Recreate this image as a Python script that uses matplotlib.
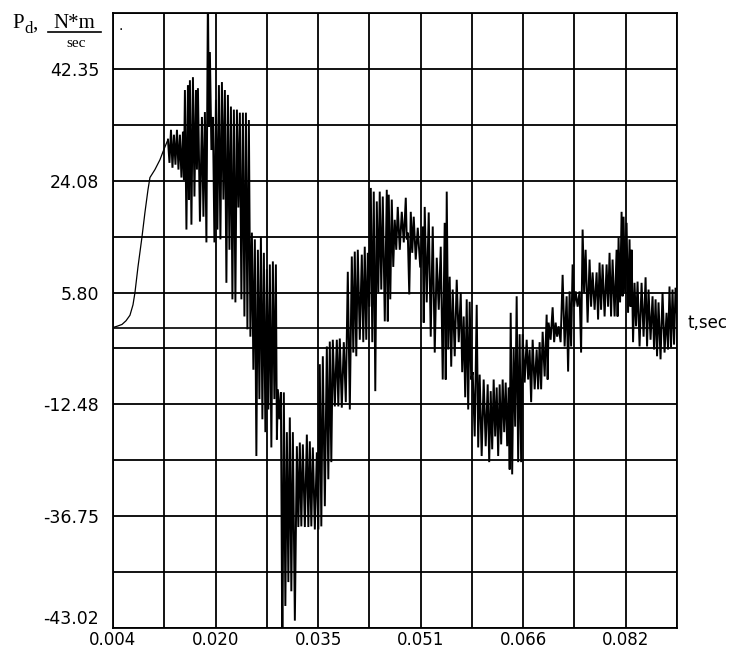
import numpy as np
import matplotlib
matplotlib.use('Agg')
import matplotlib.pyplot as plt

# smooth start-up part of the power curve
t_rise = [0.00400, 0.00461, 0.00537, 0.00598, 0.00658, 0.00704, 0.00734, 0.00780,
          0.00841, 0.00886, 0.00932, 0.00962, 0.01038, 0.01114, 0.01160, 0.01190]
p_rise = [0.1, 0.3, 0.6, 1.2, 2.1, 3.8, 5.8, 10.0,
          14.9, 18.9, 22.6, 24.6, 25.9, 27.5, 28.8, 29.6]

# oscillating part: time of each swing, its top value and the following bottom value
t_osc = [0.01236, 0.01282, 0.01327, 0.01373, 0.01418, 0.01464, 0.01494, 0.01540, 0.01570, 0.01616,
         0.01662, 0.01692, 0.01753, 0.01798, 0.01844, 0.01874, 0.01920, 0.01966, 0.02011, 0.02057,
         0.02102, 0.02148, 0.02194, 0.02239, 0.02285, 0.02330, 0.02376, 0.02422, 0.02467, 0.02513,
         0.02558, 0.02604, 0.02650, 0.02695, 0.02741, 0.02786, 0.02832, 0.02878, 0.02908, 0.02954,
         0.02999, 0.03045, 0.03090, 0.03136, 0.03197, 0.03242, 0.03288, 0.03349, 0.03394, 0.03440,
         0.03501, 0.03546, 0.03592, 0.03653, 0.03698, 0.03744, 0.03805, 0.03850, 0.03911, 0.03972,
         0.04033, 0.04078, 0.04124, 0.04185, 0.04230, 0.04276, 0.04322, 0.04367, 0.04413, 0.04458,
         0.04504, 0.04565, 0.04595, 0.04641, 0.04686, 0.04732, 0.04793, 0.04854, 0.04884, 0.04930,
         0.04975, 0.05036, 0.05112, 0.05142, 0.05203, 0.05264, 0.05325, 0.05386, 0.05446, 0.05477,
         0.05522, 0.05568, 0.05629, 0.05690, 0.05735, 0.05781, 0.05826, 0.05872, 0.05933, 0.05978,
         0.06039, 0.06100, 0.06146, 0.06191, 0.06237, 0.06282, 0.06328, 0.06374, 0.06419, 0.06450,
         0.06495, 0.06541, 0.06586, 0.06632, 0.06693, 0.06738, 0.06784, 0.06845, 0.06890, 0.06936,
         0.06997, 0.07027, 0.07088, 0.07134, 0.07179, 0.07240, 0.07301, 0.07346, 0.07392, 0.07438,
         0.07498, 0.07544, 0.07590, 0.07650, 0.07696, 0.07757, 0.07802, 0.07848, 0.07909, 0.07954,
         0.08000, 0.08061, 0.08091, 0.08137, 0.08167, 0.08213, 0.08258, 0.08289, 0.08334, 0.08380,
         0.08441, 0.08502, 0.08547, 0.08608, 0.08654, 0.08699, 0.08760, 0.08821, 0.08866, 0.08912,
         0.08958]
p_high = [30.8, 32.4, 31.6, 32.4, 31.6, 32.1, 38.9, 39.7, 40.5, 41.0,
          38.9, 39.2, 34.5, 35.3, 55.0, 45.1, 34.5, 37.3, 39.7, 40.2,
          38.9, 38.1, 36.2, 35.7, 35.7, 35.2, 35.2, 35.2, 34.0, 15.6,
          14.5, 12.8, 14.9, 12.3, 9.6, 10.4, 10.9, 10.4, -10.0, -10.5,
          -10.5, -17.0, -14.6, -17.0, -19.3, -18.7, -19.0, -17.4, -18.5, -19.5,
          -20.3, -5.9, -4.6, -3.0, -2.2, -1.9, -1.9, -1.7, -2.3, 9.2,
          11.7, 12.5, 12.8, 12.0, 13.3, 12.3, 22.9, 22.3, 20.7, 22.3,
          21.5, 22.6, 21.8, 21.0, 17.7, 19.8, 19.0, 21.3, 15.6, 19.0,
          18.2, 16.4, 16.6, 19.8, 18.9, 16.6, 11.5, 13.3, 17.2, 22.3,
          8.4, 6.3, 7.9, 5.8, 1.9, 4.7, 4.3, -7.2, 3.8, -7.6,
          -8.4, -9.2, -10.3, -8.4, -9.7, -9.2, -8.4, -8.9, -9.7, 2.5,
          -3.2, 5.2, -1.0, -1.0, -1.9, -3.5, -1.9, -3.5, -2.3, -0.6,
          2.2, 0.9, 3.4, 0.9, 0.3, 8.7, 5.2, 6.0, 10.4, 6.0,
          6.0, 16.1, 12.8, 11.2, 9.1, 9.1, 10.7, 10.4, 10.4, 12.3,
          11.2, 12.8, 14.8, 19.0, 18.2, 17.2, 14.5, 12.8, 7.4, 7.6,
          7.4, 8.3, 6.3, 5.2, 4.7, 4.2, 5.8, 2.5, 6.8, 6.3,
          6.6]
p_low = [27.0, 26.2, 26.7, 25.9, 24.6, 24.2, 16.1, 21.0, 16.9, 21.5,
         25.9, 17.4, 18.2, 14.0, 32.9, 29.1, 14.0, 16.1, 14.5, 21.0,
         7.4, 12.8, 4.7, 4.2, 19.7, 4.7, 1.9, -0.2, -1.4, -6.8,
         -20.9, -11.6, -14.9, -17.0, -13.3, -19.5, -11.6, -18.2, -14.9, -55.0,
         -45.4, -41.5, -43.0, -47.8, -32.5, -32.4, -32.5, -32.5, -32.4, -32.9,
         -32.9, -32.4, -29.1, -24.7, -21.9, -12.8, -12.8, -13.0, -12.1, -13.3,
         -4.0, -4.6, -1.9, -2.3, -1.9, 3.5, -2.3, -10.3, 5.8, 6.3,
         1.1, 1.1, 4.7, 10.0, 12.8, 12.8, 14.0, 14.5, 5.5, 12.3,
         11.2, 9.9, 0.9, 4.2, -1.4, -4.0, 3.0, -8.4, -8.4, -3.5,
         -6.3, -4.6, -2.3, -7.2, -11.3, -13.3, -8.4, -17.7, -19.5, -20.9,
         -19.3, -21.9, -19.8, -17.7, -20.9, -19.0, -17.0, -19.3, -23.1, -23.9,
         -16.1, -21.9, -21.9, -8.9, -8.4, -12.1, -10.0, -10.0, -10.0, -7.9,
         -8.4, -1.9, -2.3, -1.4, -2.3, -3.0, -7.1, -3.0, 3.5, 3.5,
         -4.0, 5.8, 0.9, 3.5, 3.0, 1.4, 3.0, 1.9, 3.5, 1.9,
         1.9, 1.9, 4.2, 5.2, 5.8, 2.5, 3.5, -2.3, 0.3, -3.0,
         -1.4, -3.0, -1.9, -3.5, -4.6, -5.1, -4.0, -3.5, -3.2, -2.7,
         1.9]

x_ticks = [0.004, 0.0196, 0.0352, 0.0508, 0.0664, 0.082]
x_labels = ['0.004', '0.020', '0.035', '0.051', '0.066', '0.082']
y_ticks = [42.35, 24.08, 5.81, -12.46, -30.73, -49.0]
y_labels = ['42.35', '24.08', '5.80', '-12.48', '-36.75', '-43.02']

# zig-zag line: top of each swing, then its bottom half-way to the next swing
t_osc = np.array(t_osc)
t_mid = np.append((t_osc[:-1] + t_osc[1:]) / 2, t_osc[-1] + 0.00023)
t_zz = np.column_stack([t_osc, t_mid]).ravel()
p_zz = np.column_stack([p_high, p_low]).ravel()

fig = plt.figure(figsize=(7.29, 6.51), dpi=100)
ax = fig.add_axes([113 / 729, 23 / 651, 564 / 729, 615 / 651])

# thin smooth start, heavier oscillating part
ax.plot(np.append(t_rise, t_zz[0]), np.append(p_rise, p_zz[0]), color='black', lw=0.9)
ax.plot(t_zz, p_zz, color='black', lw=1.4, solid_joinstyle='miter')
ax.axhline(0, color='black', lw=1.2)

x0, dx = 0.004, 0.0078
y0, dy = -49.0, 9.135
ax.set_xlim(x0, x0 + 11 * dx)
ax.set_ylim(y0, y0 + 11 * dy)
ax.set_xticks(x0 + dx * np.arange(12), minor=True)
ax.set_yticks(y0 + dy * np.arange(12), minor=True)
ax.grid(True, which='both', color='black', lw=1.3)
ax.set_axisbelow(True)

ax.set_xticks(x_ticks, x_labels, fontsize=12)
ax.set_yticks(y_ticks, y_labels, fontsize=12.5)
ax.tick_params(which='both', length=0)
ax.tick_params(axis='x', pad=2)
ax.tick_params(axis='y', pad=10)
ax.get_yticklabels()[-1].set_va('bottom')
for s in ax.spines.values():
    s.set_linewidth(1.3)

# axis captions
fig.text(12 / 729, 1 - 28 / 651, 'P', family='Liberation Serif', fontsize=15)
fig.text(24 / 729, 1 - 33 / 651, 'd', family='Liberation Serif', fontsize=12)
fig.text(32 / 729, 1 - 29 / 651, ',', family='Liberation Serif', fontsize=15)
fig.text(74 / 729, 1 - 28 / 651, 'N*m', family='Liberation Serif', fontsize=15, ha='center')
fig.add_artist(plt.Line2D([48 / 729, 101 / 729], [1 - 32 / 651, 1 - 32 / 651], color='black', lw=1.2))
fig.text(76 / 729, 1 - 47 / 651, 'sec', family='Liberation Serif', fontsize=11, ha='center')
fig.text(118 / 729, 1 - 30 / 651, '.', fontsize=10)
fig.text(688 / 729, 1 - 323 / 651, 't,sec', fontsize=12, va='center')

fig.savefig('out.png', dpi=100)
